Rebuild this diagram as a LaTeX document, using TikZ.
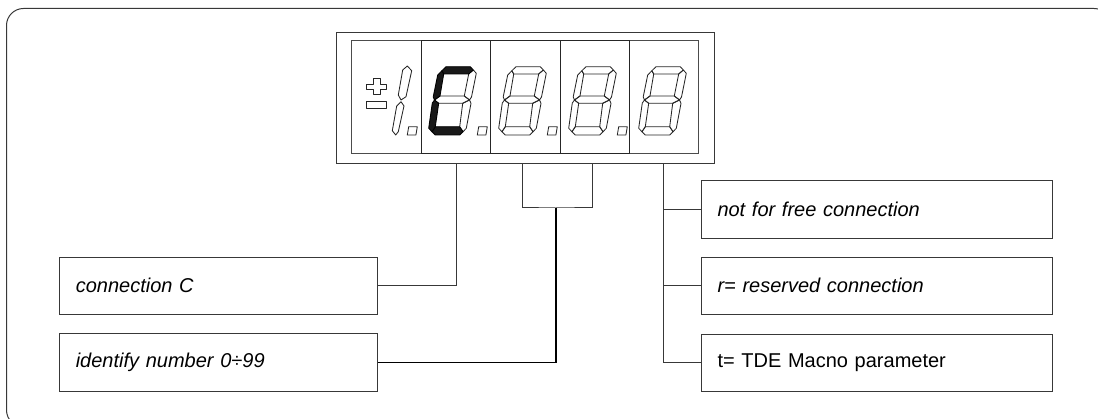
\documentclass[tikz,border=0pt]{standalone}
\usepackage{fontspec}
\setmainfont{Liberation Sans}
\tikzset{
  x=1pt,y=-1pt,
  frameline/.style={draw=black!78,line width=1pt},
  seg/.style={draw=black!85,line width=0.85pt,line join=round},
  segon/.style={draw=black,fill=black!90,line width=0.85pt,line join=round},
  infobox/.style={frameline,rectangle,anchor=north west,inner xsep=16pt,inner ysep=0pt,align=left,font=\fontsize{20}{24}\selectfont},
  conn/.style={draw=black!78,line width=1pt},
  connbold/.style={draw=black,line width=1.6pt},
}
\newcommand{\segA}[1]{\draw[#1] (24,6.7)--(48.3,6.7)--(51.3,10)--(46.7,14)--(21.7,14)--(19.8,10.8)--cycle;}
\newcommand{\segB}[1]{\draw[#1] (51.3,10)--(54.3,13.3)--(49.5,37)--(47.5,40)--(42.3,36)--(46.7,14)--cycle;}
\newcommand{\segC}[1]{\draw[#1] (47.5,40)--(49,43.3)--(44.3,68.3)--(41,71.7)--(37.7,66.7)--(40.7,43.3)--cycle;}
\newcommand{\segD}[1]{\draw[#1] (13.3,66.7)--(37.7,66.7)--(41,71.7)--(37.7,75)--(13.3,75)--(10,71.7)--cycle;}
\newcommand{\segE}[1]{\draw[#1] (12.5,40)--(16.7,43.3)--(13.3,66.7)--(10,71.7)--(6.7,68.3)--(10.3,43)--cycle;}
\newcommand{\segF}[1]{\draw[#1] (19.8,10.8)--(21.7,14)--(18,36)--(12.5,40)--(11.2,37)--(15.7,15)--cycle;}
\newcommand{\segG}[1]{\draw[#1] (12.5,40)--(18,36)--(42.3,36)--(47.5,40)--(40.7,43.3)--(16.7,43.3)--cycle;}
\begin{document}
\begin{tikzpicture}
\useasboundingbox (0,0) rectangle (1098,419);
\clip (0,0) rectangle (1098,419);
% outer frame, running off the page at right and bottom
\draw[frameline,rounded corners=17pt] (6.5,8.5) rectangle (1111,427);
% display
\node[frameline,rectangle,anchor=north west,minimum width=378.3pt,minimum height=130.2pt,inner sep=0pt] (disp) at (336,32.5) {};
\draw[draw=black!70,line width=1pt] (351.7,41) rectangle (698.7,153.7);
\draw[draw=black!85,line width=1pt] (421.3,41) rectangle (629.3,153.7);
\draw[draw=black!85,line width=1pt] (490.3,41) -- (490.3,153.7) (560.3,41) -- (560.3,153.7);
% plus and minus
\draw[seg] (373,78.3)--(380,78.3)--(380,84.3)--(386,84.3)--(386,89.3)--(380,89.3)--(380,94)--(373,94)--(373,89.3)--(366.7,89.3)--(366.7,84.3)--(373,84.3)--cycle;
\draw[seg] (366.7,101.7) rectangle (386,108.3);
% leading 1
\draw[seg] (407.3,66)--(411.7,70.7)--(406,96.7)--(401,100)--(398.3,95)--(402.7,70)--cycle;
\draw[seg] (401,101.7)--(404,106)--(398.3,131.7)--(395.7,135)--(392.3,130.7)--(396.7,106)--cycle;
% digits
\foreach \px/\on in {422/1,492/0,562/0,632/0}{
  \begin{scope}[shift={(\px,60)}]
    \ifnum\on=1
      \segB{seg}\segC{seg}\segG{seg}\segA{segon}\segD{segon}\segE{segon}\segF{segon}
    \else
      \segA{seg}\segB{seg}\segC{seg}\segD{seg}\segE{seg}\segF{seg}\segG{seg}
    \fi
  \end{scope}
}
% decimal points
\foreach \px in {407.3,477.3,547.3,617.3}{
  \draw[seg] (\px+1.4,126.7)--(\px+10,126.7)--(\px+8.6,135)--(\px,135)--cycle;
}
% information boxes
\node[infobox,text width=286pt,minimum height=57.3pt] (cc) at (59.3,256.7) {\itshape connection C};
\node[infobox,text width=286pt,minimum height=57.7pt] (idn) at (59.3,333.3) {\itshape identify number 0÷99};
\node[infobox,text width=318.7pt,minimum height=57.7pt] (free) at (701,180.3) {\itshape not for free connection};
\node[infobox,text width=318.7pt,minimum height=57.3pt] (res) at (701,256.7) {\itshape r= reserved connection};
\node[infobox,text width=318.7pt,minimum height=57pt] (tde) at (701,334) {t= TDE Macno parameter};
% connectors
\coordinate (dc) at (disp.south west -| 456.7,0);
\coordinate (tr) at (disp.south west -| 663.7,0);
\coordinate (bl) at (disp.south west -| 522.3,0);
\coordinate (br) at (disp.south west -| 592.3,0);
\coordinate (bc) at (555.7,208);
\draw[conn] (cc.east) -| (dc);
\draw[conn] (bl) |- (bc) -| (br);
\draw[connbold] (idn.east) -| (bc);
\draw[conn] (tr) |- (tde.west);
\draw[conn] (free.west) -- (free.west -| tr);
\draw[conn] (res.west) -- (res.west -| tr);
\end{tikzpicture}
\end{document}
